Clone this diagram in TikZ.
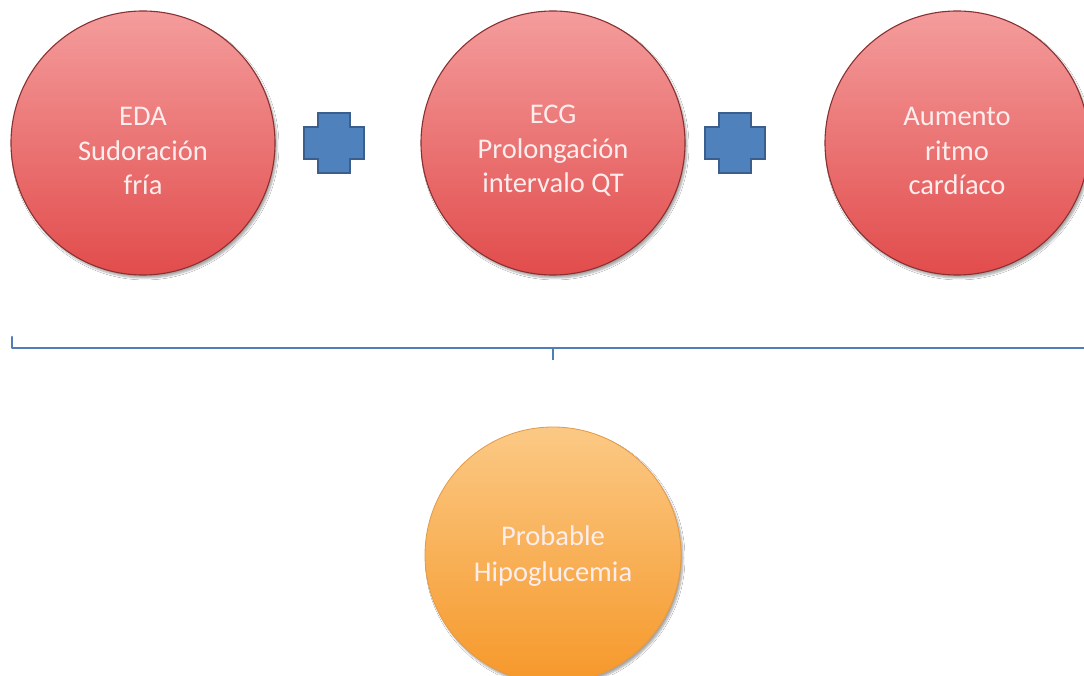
\documentclass[tikz,border=0pt]{standalone}
\usepackage{fontspec}
\setmainfont{Carlito}
\usetikzlibrary{shadows.blur}
\definecolor{redtop}{HTML}{F49C9C}
\definecolor{redbot}{HTML}{E24C4C}
\definecolor{redline}{HTML}{8A3030}
\definecolor{ortop}{HTML}{FBC985}
\definecolor{orbot}{HTML}{F6982A}
\definecolor{orline}{HTML}{E39A45}
\definecolor{plusfill}{HTML}{4F81BD}
\definecolor{plusline}{HTML}{3A5F8E}
\definecolor{brace}{HTML}{4F7DBA}
\definecolor{txt}{HTML}{FDEDED}
\begin{document}
\begin{tikzpicture}[x=1pt,y=1pt,
  bubble/.style={circle, minimum size=264pt, inner sep=0pt,
    blur shadow={shadow xshift=2pt, shadow yshift=-3pt, shadow blur steps=6, shadow opacity=35}},
  redbubble/.style={bubble, top color=redtop, bottom color=redbot, draw=redline, line width=1.1pt},
  orbubble/.style={bubble, minimum size=256pt, top color=ortop, bottom color=orbot, draw=orline, line width=0.8pt},
  bubbletext/.style={align=center, text=txt, inner sep=0pt},
  redtext/.style={bubbletext, font=\fontsize{28.5}{34.5}\selectfont},
  ortext/.style={bubbletext, font=\fontsize{28.5}{36.5}\selectfont},
  plusmark/.style={fill=plusfill, draw=plusline, line width=1.2pt},
  bracket/.style={draw=brace, line width=2.6pt}]
\useasboundingbox (0,0) rectangle (1084,675);
\fill[white] (0,0) rectangle (1084,675);
\begin{scope}
\clip (0,0) rectangle (1084,675);
% symptom circles
\node[redbubble] (eda) at (143,532) {};
\node[redbubble] (ecg) at (553,532) {};
\node[redbubble] (hr)  at (957,532) {};
\node[redtext] (edat) at ([yshift=-8]eda.center) {EDA\\Sudoración\\fría};
\node[redtext] (ecgt) at ([yshift=-8]ecg.center) {ECG\\Prolongación\\intervalo QT};
\node[redtext] (hrt)  at ([yshift=-8]hr.center)  {Aumento\\ritmo\\cardíaco};
% plus signs between the circles
\coordinate (p1) at (334,532);
\coordinate (p2) at (735,532);
\foreach \p in {p1,p2}{
  \path[plusmark] ([shift={(-16,30)}]\p) -- ++(32,0) -- ++(0,-14) -- ++(14,0) -- ++(0,-32)
    -- ++(-14,0) -- ++(0,-14) -- ++(-32,0) -- ++(0,14) -- ++(-14,0) -- ++(0,32)
    -- ++(14,0) -- cycle;
}
% grouping bracket
\coordinate (bl) at (12,338);
\coordinate (bc) at (553,315);
\coordinate (br) at (1086,327);
\draw[bracket, line cap=round, line join=round] (bl) -- (12,327) -- (br);
\draw[bracket] (553,327) -- (bc);
% conclusion
\node[orbubble] (hipo) at (553,120) {};
\node[ortext] (hipot) at ([yshift=-1]hipo.center) {Probable\\Hipoglucemia};
\end{scope}
\end{tikzpicture}
\end{document}
